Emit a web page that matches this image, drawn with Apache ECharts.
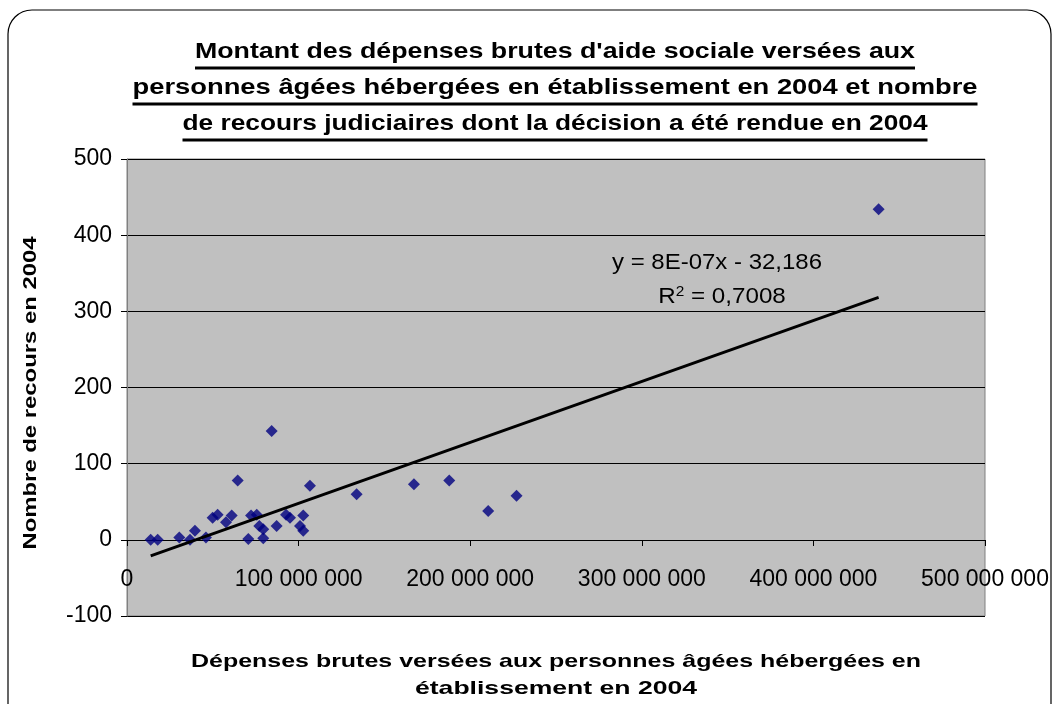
<!DOCTYPE html>
<html>
<head>
<meta charset="utf-8">
<script src="https://cdn.jsdelivr.net/npm/echarts@6/dist/echarts.min.js"></script>
<style>
html, body { margin: 0; padding: 0; background: #fff; }
#chart { width: 1057px; height: 704px; }
</style>
</head>
<body>
<div id="chart"></div>
<script>
// données
const depenses = [13800000, 17900000, 30500000, 36700000, 39600000, 46000000, 49900000, 52800000,
    57700000, 61000000, 64500000, 70700000, 72300000, 75600000, 77100000, 79400000, 79400000,
    84300000, 87200000, 92700000, 95000000, 100800000, 102700000, 102700000, 106600000,
    133800000, 167200000, 187800000, 210500000, 227000000, 438000000]
const recours = [0, 0, 3, 0, 12, 3, 29, 33, 23, 32, 78, 1, 32, 33, 18, 14, 2, 143, 18, 33, 29, 18,
    32, 12, 71, 60, 73, 78, 38, 58, 434]
const yTicks = [-100, 0, 100, 200, 300, 400, 500]
const xTicks = [0, 100000000, 200000000, 300000000, 400000000, 500000000]

// courbe de tendance (équation affichée)
const pente = 8e-7
const ordonnee = -32.186
const equation = 'y = 8E-07x - 32,186'
const r2 = '0,7008'

const titre = [
    "Montant des dépenses brutes d'aide sociale versées aux",
    'personnes âgées hébergées en établissement en 2004 et nombre',
    'de recours judiciaires dont la décision a été rendue en 2004'
]
const titreX = [
    'Dépenses brutes versées aux personnes âgées hébergées en',
    'établissement en 2004'
]
const titreY = 'Nombre de recours en 2004'

const police = '"Liberation Sans", Arial, sans-serif'
const titleFont = 'bold 22px ' + police
const axisFont = 'bold 19px ' + police
const eqFont = '22px ' + police

function largeur (txt, font) {
    const ctx = document.createElement('canvas').getContext('2d')
    ctx.font = font
    return ctx.measureText(txt).width
}

function formatNombre (v) {
    return String(v).replace(/\B(?=(\d{3})+(?!\d))/g, ' ')
}

const points = depenses.map((d, i) => [d, recours[i]])
const xMin = Math.min(...depenses)
const xMax = Math.max(...depenses)
const tendance = [[xMin, pente * xMin + ordonnee], [xMax, pente * xMax + ordonnee]]

const graphics = [
    {
        type: 'rect',
        shape: { x: 8, y: 10, width: 1043, height: 720, r: 24 },
        style: { fill: 'transparent', stroke: '#000', lineWidth: 1.2 },
        silent: true
    }
]

// titre souligné, texte élargi comme dans l'original
const titleY = [52, 88, 124]
const titleW = [720, 845, 745]
titre.forEach((t, i) => {
    const w = largeur(t, titleFont)
    graphics.push({
        type: 'text',
        x: 555,
        y: titleY[i],
        scaleX: titleW[i] / w,
        style: { text: t, font: titleFont, fill: '#000', align: 'center', verticalAlign: 'middle' }
    })
    graphics.push({
        type: 'line',
        shape: { x1: 555 - titleW[i] / 2, y1: titleY[i] + 16, x2: 555 + titleW[i] / 2, y2: titleY[i] + 16 },
        style: { stroke: '#000', lineWidth: 3 }
    })
})

const xTitleW = [730, 282]
titreX.forEach((t, i) => {
    graphics.push({
        type: 'text',
        x: 556,
        y: 662 + i * 27,
        scaleX: xTitleW[i] / largeur(t, axisFont),
        style: { text: t, font: axisFont, fill: '#000', align: 'center', verticalAlign: 'middle' }
    })
})
graphics.push({
    type: 'text',
    x: 31,
    y: 393,
    rotation: Math.PI / 2,
    scaleX: 313 / largeur(titreY, axisFont),
    style: { text: titreY, font: axisFont, fill: '#000', align: 'center', verticalAlign: 'middle' }
})
graphics.push({
    type: 'text',
    x: 717,
    y: 263,
    scaleX: 210 / largeur(equation, eqFont),
    style: { text: equation, font: eqFont, fill: '#000', align: 'center', verticalAlign: 'middle' }
})
graphics.push({
    type: 'text',
    x: 722,
    y: 297,
    scaleX: 1.1,
    style: {
        text: 'R{sup|2} = ' + r2,
        font: eqFont,
        fill: '#000',
        align: 'center',
        verticalAlign: 'middle',
        rich: { sup: { fontSize: 14, fontFamily: police, verticalAlign: 'top', padding: [0, 0, 10, 0] } }
    }
})

const options = {
    backgroundColor: '#fff',
    animation: false,
    grid: {
        show: true,
        left: 127,
        right: 72,
        top: 159,
        bottom: 88,
        backgroundColor: '#C0C0C0',
        borderColor: '#808080',
        borderWidth: 1
    },
    xAxis: {
        type: 'value',
        min: xTicks[0],
        max: xTicks[xTicks.length - 1],
        interval: 100000000,
        // l'axe horizontal croise à y = 0
        offset: -76,
        axisLine: { onZero: false, lineStyle: { color: '#000', width: 1 } },
        axisTick: { show: true, length: 6, lineStyle: { color: '#000' } },
        axisLabel: {
            margin: 28,
            color: '#000',
            fontSize: 23,
            fontFamily: police,
            formatter: v => formatNombre(v)
        },
        splitLine: { show: false }
    },
    yAxis: {
        type: 'value',
        min: yTicks[0],
        max: yTicks[yTicks.length - 1],
        interval: 100,
        axisLine: { show: true, onZero: false, lineStyle: { color: '#808080' } },
        axisTick: { show: true, length: 6, lineStyle: { color: '#000' } },
        axisLabel: { margin: 15, color: '#000', fontSize: 23, fontFamily: police },
        splitLine: { show: true, lineStyle: { color: '#000', width: 1 } }
    },
    series: [
        {
            name: 'Recours',
            type: 'scatter',
            data: points,
            symbol: 'diamond',
            symbolSize: 12,
            itemStyle: { color: '#000080' },
            z: 3
        },
        {
            name: 'Tendance',
            type: 'line',
            data: tendance,
            symbol: 'none',
            lineStyle: { color: '#000', width: 3 },
            z: 4
        }
    ],
    graphic: graphics
}

const chart = echarts.init(document.getElementById('chart'))
chart.setOption(options, true)
</script>
</body>
</html>
